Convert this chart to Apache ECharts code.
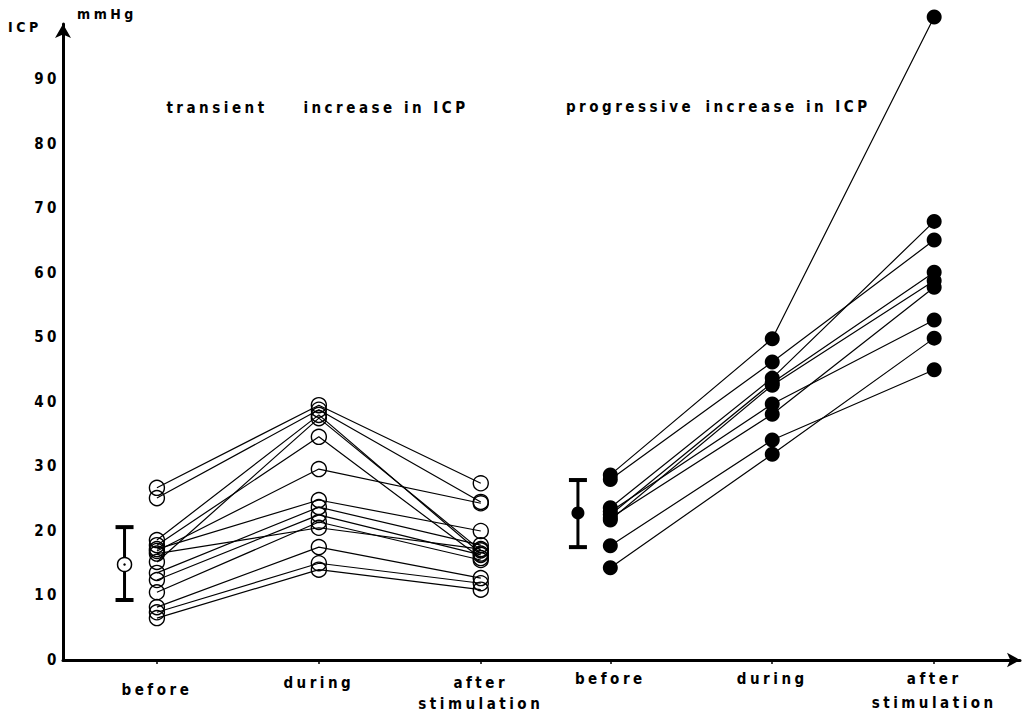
<!DOCTYPE html>
<html>
<head>
<meta charset="utf-8">
<script src="https://cdn.jsdelivr.net/npm/echarts@6/dist/echarts.min.js"></script>
<style>
  html, body { margin: 0; padding: 0; background: #fff; }
  #chart { width: 1028px; height: 715px; }
  /* wide tracking of the typewriter-style lettering */
  #chart text { letter-spacing: 3.5px; }
</style>
</head>
<body>
<div id="chart"></div>
<script>
// Intracranial pressure (mmHg) before, during and after stimulation.
const stageLabels = ['before', 'during', 'after\nstimulation'];

// Transient increase in ICP (open circles), one entry per patient
const transientBefore = [26.7, 25.1, 18.6, 15.2, 17.8, 16.9, 17.2, 13.5, 12.4, 10.5, 16.5, 8.2, 7.4, 6.5];
const transientDuring = [39.5, 38.8, 38.0, 37.5, 34.6, 29.6, 24.8, 23.7, 22.5, 21.4, 20.5, 17.5, 15.0, 14.0];
const transientAfter  = [27.4, 24.5, 16.5, 17.0, 15.8, 24.3, 20.0, 17.8, 16.3, 15.5, 17.2, 12.7, 11.9, 10.9];

// Progressive increase in ICP (filled circles)
const progressiveBefore = [28.7, 28.0, 23.6, 22.5, 21.7, 23.0, 22.0, 17.7, 14.3];
const progressiveDuring = [49.8, 46.2, 43.7, 43.0, 42.6, 39.7, 38.1, 34.1, 31.9];
const progressiveAfter  = [99.7, 65.1, 68.0, 60.1, 58.8, 52.7, 57.8, 45.0, 49.9];

// Baseline mean with spread: [mean, low, high]
const transientBaseline = [14.8, 9.3, 20.6];
const progressiveBaseline = [22.8, 17.5, 27.9];

const yTicks = [0, 10, 20, 30, 40, 50, 60, 70, 80, 90];

// Stage positions along the horizontal axis for each group
const transientX = [1, 2, 3];
const progressiveX = [3.8, 4.8, 5.8];
const baselineShift = 0.2;
const X_MIN = 0.42;
const X_MAX = 6.33;

const FONT = '"Liberation Sans Narrow", "DejaVu Sans Condensed", "Liberation Sans", sans-serif';
const BLACK = '#000';

function subjectSeries(before, during, after, xs) {
  return before.map((b, i) => ({
    type: 'line',
    data: [[xs[0], b], [xs[1], during[i]], [xs[2], after[i]]],
    symbol: 'none',
    clip: false,
    silent: true,
    z: 2,
    lineStyle: { color: BLACK, width: 1.2, opacity: 1 }
  }));
}

function pointsOf(before, during, after, xs) {
  const pts = [];
  before.forEach(v => pts.push([xs[0], v]));
  during.forEach(v => pts.push([xs[1], v]));
  after.forEach(v => pts.push([xs[2], v]));
  return pts;
}

function stageFormatter(xs) {
  return function (v) {
    let best = 0;
    xs.forEach((p, i) => { if (Math.abs(p - v) < Math.abs(xs[best] - v)) best = i; });
    return stageLabels[best];
  };
}

const labelStyle = {
  color: BLACK,
  fontFamily: FONT,
  fontWeight: 'bold',
  fontSize: 15,
  lineHeight: 24
};

// label-only horizontal axis sharing the main scale
function labelAxis(values, xs, margin, lineHeight) {
  return {
    type: 'value',
    min: X_MIN,
    max: X_MAX,
    position: 'bottom',
    axisLine: { show: false },
    axisTick: { show: false },
    splitLine: { show: false },
    axisLabel: Object.assign({}, labelStyle, {
      customValues: values,
      margin: margin,
      lineHeight: lineHeight,
      formatter: stageFormatter(xs)
    })
  };
}

const chart = echarts.init(document.getElementById('chart'), null, { renderer: 'svg' });

const series = [
  ...subjectSeries(transientBefore, transientDuring, transientAfter, transientX),
  ...subjectSeries(progressiveBefore, progressiveDuring, progressiveAfter, progressiveX),
  {
    type: 'scatter',
    data: pointsOf(transientBefore, transientDuring, transientAfter, transientX),
    symbol: 'circle',
    symbolSize: 15,
    clip: false,
    z: 3,
    itemStyle: { color: 'rgba(255,255,255,0)', borderColor: BLACK, borderWidth: 1.4, opacity: 1 }
  },
  {
    type: 'scatter',
    data: pointsOf(progressiveBefore, progressiveDuring, progressiveAfter, progressiveX),
    symbol: 'circle',
    symbolSize: 15,
    clip: false,
    z: 3,
    itemStyle: { color: BLACK, borderWidth: 0, opacity: 1 }
  },
  {
    // baseline spread bars
    type: 'custom',
    z: 3,
    data: [
      [transientX[0] - baselineShift, transientBaseline[1], transientBaseline[2]],
      [progressiveX[0] - baselineShift, progressiveBaseline[1], progressiveBaseline[2]]
    ],
    renderItem: function (params, api) {
      const x = api.value(0);
      const top = api.coord([x, api.value(2)]);
      const bot = api.coord([x, api.value(1)]);
      const half = 9;
      const st = { stroke: BLACK, lineWidth: 3 };
      const cap = { stroke: BLACK, lineWidth: 4 };
      return {
        type: 'group',
        children: [
          { type: 'line', shape: { x1: top[0], y1: top[1], x2: bot[0], y2: bot[1] }, style: st },
          { type: 'line', shape: { x1: top[0] - half, y1: top[1], x2: top[0] + half, y2: top[1] }, style: cap },
          { type: 'line', shape: { x1: bot[0] - half, y1: bot[1], x2: bot[0] + half, y2: bot[1] }, style: cap }
        ]
      };
    }
  },
  {
    type: 'scatter',
    data: [[transientX[0] - baselineShift, transientBaseline[0]]],
    symbol: 'circle',
    symbolSize: 14,
    z: 4,
    itemStyle: { color: '#fff', borderColor: BLACK, borderWidth: 1.5, opacity: 1 }
  },
  {
    type: 'scatter',
    data: [[transientX[0] - baselineShift, transientBaseline[0]]],
    symbol: 'circle',
    symbolSize: 2.5,
    z: 5,
    itemStyle: { color: BLACK, opacity: 1 }
  },
  {
    type: 'scatter',
    data: [[progressiveX[0] - baselineShift, progressiveBaseline[0]]],
    symbol: 'circle',
    symbolSize: 13,
    z: 4,
    itemStyle: { color: BLACK, opacity: 1 }
  }
];

const option = {
  animation: false,
  backgroundColor: '#fff',
  grid: { left: 63, right: 8, top: 24, bottom: 55, outerBoundsMode: 'none', containLabel: false },
  xAxis: [
    {
      type: 'value',
      min: X_MIN,
      max: X_MAX,
      axisLine: {
        onZero: false,
        lineStyle: { color: BLACK, width: 3 },
        symbol: ['none', 'arrow'],
        symbolSize: [11, 13]
      },
      splitLine: { show: false },
      axisTick: {
        show: true,
        customValues: transientX.concat(progressiveX),
        length: 4,
        lineStyle: { color: BLACK, width: 1.5 }
      },
      axisLabel: Object.assign({
        customValues: [transientX[0]],
        margin: 18,
        formatter: stageFormatter(transientX)
      }, labelStyle)
    },
    labelAxis(transientX.slice(1), transientX, 12, 21),
    labelAxis(progressiveX, progressiveX, 7, 24)
  ],
  yAxis: {
    type: 'value',
    min: 0,
    max: 98.6,
    interval: 10,
    axisLine: {
      show: true,
      onZero: false,
      lineStyle: { color: BLACK, width: 3 },
      symbol: ['none', 'arrow'],
      symbolSize: [12, 14]
    },
    axisTick: { show: false },
    splitLine: { show: false },
    axisLabel: Object.assign({
      margin: 3,
      formatter: v => (yTicks.indexOf(v) >= 0 ? String(v) : '')
    }, labelStyle)
  },
  graphic: [
    { type: 'text', x: 8, y: 27, style: { text: 'ICP', font: 'bold 14px ' + FONT, fill: BLACK, textVerticalAlign: 'middle' } },
    { type: 'text', x: 77, y: 14, style: { text: 'mmHg', font: 'bold 14px ' + FONT, fill: BLACK, textVerticalAlign: 'middle' } },
    { type: 'text', x: 217, y: 108, style: { text: 'transient', font: 'bold 15px ' + FONT, fill: BLACK, textAlign: 'center', textVerticalAlign: 'middle' } },
    { type: 'text', x: 386, y: 108, style: { text: 'increase in ICP', font: 'bold 15px ' + FONT, fill: BLACK, textAlign: 'center', textVerticalAlign: 'middle' } },
    { type: 'text', x: 630, y: 107, style: { text: 'progressive', font: 'bold 15px ' + FONT, fill: BLACK, textAlign: 'center', textVerticalAlign: 'middle' } },
    { type: 'text', x: 788, y: 107, style: { text: 'increase in ICP', font: 'bold 15px ' + FONT, fill: BLACK, textAlign: 'center', textVerticalAlign: 'middle' } }
  ],
  series: series
};

chart.setOption(option);
</script>
</body>
</html>
